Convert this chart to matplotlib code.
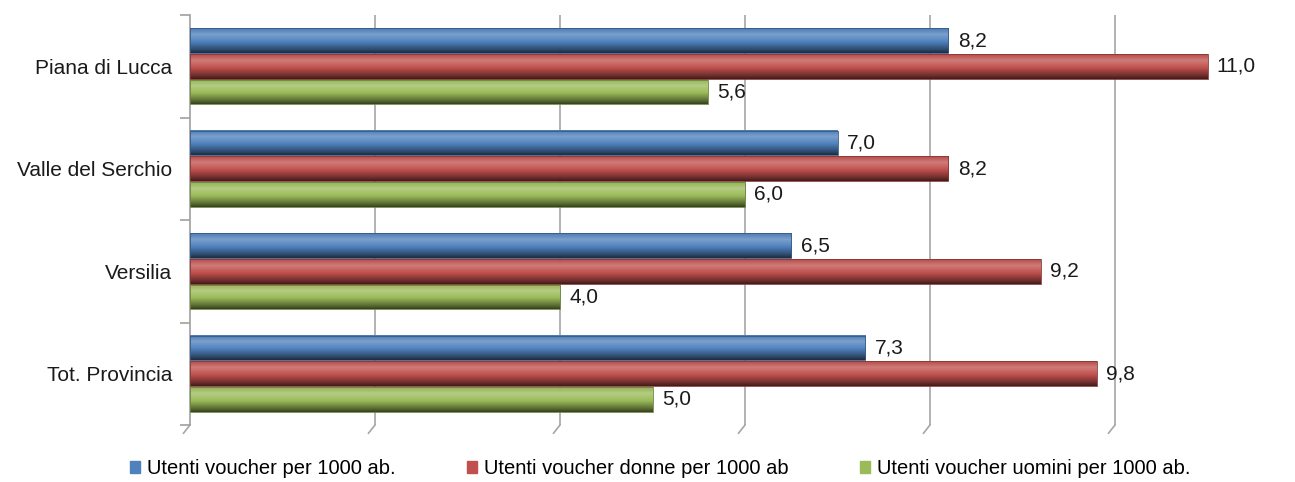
import numpy as np
import matplotlib.pyplot as plt
from matplotlib.colors import LinearSegmentedColormap, to_rgb
from matplotlib.patches import Rectangle

plt.rcParams['font.family'] = ['Liberation Sans', 'DejaVu Sans']

categories = ['Piana di Lucca', 'Valle del Serchio', 'Versilia', 'Tot. Provincia']
series_names = ['Utenti voucher per 1000 ab.',
                'Utenti voucher donne per 1000 ab',
                'Utenti voucher uomini per 1000 ab.']
utenti = [8.2, 7.0, 6.5, 7.3]
donne = [11.0, 8.2, 9.2, 9.8]
uomini = [5.6, 6.0, 4.0, 5.0]
colors = ['#4F81BD', '#C0504D', '#9BBB59']

series = [utenti, donne, uomini]


def shade_cmap(c):
    c = np.array(to_rgb(c))
    light = c + (1 - c) * 0.25
    stops = [(0.0, c * 0.95), (0.25, light), (0.55, c), (0.85, c * 0.6), (1.0, c * 0.35)]
    return LinearSegmentedColormap.from_list('s', [(p, tuple(np.clip(v, 0, 1))) for p, v in stops])


fig = plt.figure(figsize=(12.95, 4.82), dpi=100)
ax = fig.add_axes([190 / 1295, 1 - 425 / 482, 1110 / 1295, 410 / 482])

bar_h = 0.25
grad = np.linspace(0, 1, 64).reshape(-1, 1)
for i, (vals, col) in enumerate(zip(series, colors)):
    cmap = shade_cmap(col)
    for j, v in enumerate(vals):
        yc = j + (i - 1) * bar_h
        y0, y1 = yc - bar_h / 2 + 0.005, yc + bar_h / 2 - 0.005
        ax.imshow(grad, cmap=cmap, aspect='auto', extent=(0, v, y1, y0),
                  interpolation='bilinear', zorder=3)
        ax.add_patch(Rectangle((0, y0), v, y1 - y0, fill=False,
                               edgecolor=tuple(np.array(to_rgb(col)) * 0.7),
                               lw=0.6, zorder=4))
        ax.text(v + 0.1, yc, f'{v:.1f}'.replace('.', ','), va='center',
                ha='left', fontsize=15, color='#1a1a1a', zorder=5)

ax.set_xlim(0, 12)
ax.set_ylim(3.5, -0.5)
ax.set_xticks([])
ax.set_yticks(range(len(categories)))
ax.set_yticklabels(categories, fontsize=15, color='#1a1a1a')
ax.tick_params(axis='y', length=0, pad=13)
ax.set_yticks(np.arange(-0.5, 3.6, 1), minor=True)
ax.tick_params(axis='y', which='minor', length=7, color='#a0a0a0', width=1.2)

for s in ['top', 'right', 'bottom']:
    ax.spines[s].set_visible(False)
ax.spines['left'].set_color('#a0a0a0')
ax.spines['left'].set_linewidth(1.2)

for gx in [2, 4, 6, 8, 10]:
    ax.plot([gx, gx], [-0.5, 3.5], color='#a6a6a6', lw=1.2, zorder=1)
for gx in [0, 2, 4, 6, 8, 10]:
    ax.plot([gx, gx - 0.07], [3.5, 3.58], color='#a6a6a6', lw=1.2, zorder=1,
            clip_on=False)

handles = [Rectangle((0, 0), 1, 1, color=c) for c in colors]
fig.legend(handles, series_names, loc='lower center', ncol=3, frameon=False,
           fontsize=14.5, bbox_to_anchor=(0.51, -0.03), handlelength=0.5,
           handleheight=0.5, handletextpad=0.35, columnspacing=3.55)

fig.savefig('out.png', dpi=100)
